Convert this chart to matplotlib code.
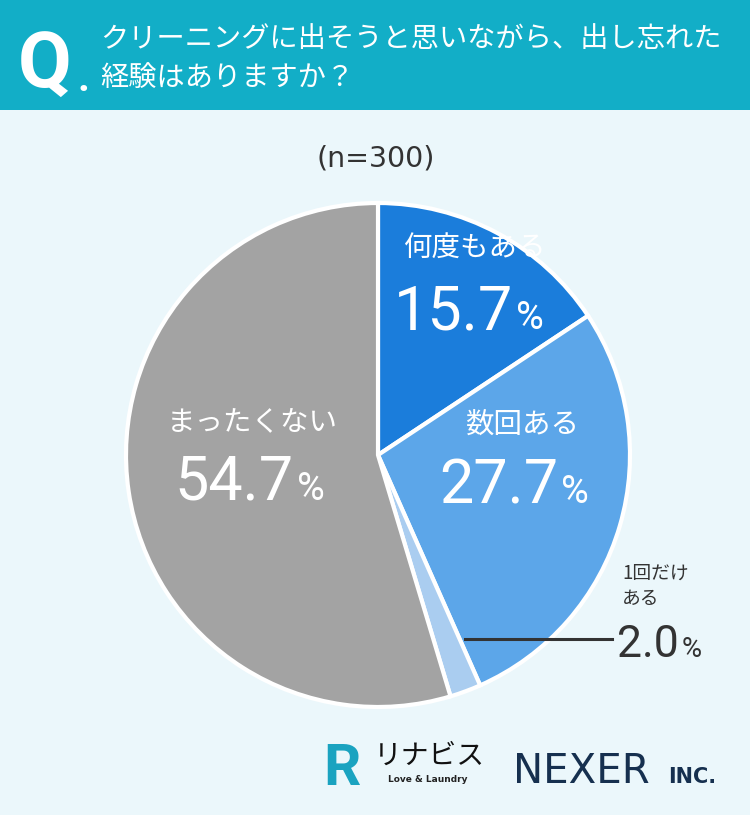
import matplotlib.pyplot as plt
from matplotlib.patches import Rectangle

plt.rcParams['font.family'] = ['Noto Sans CJK JP', 'DejaVu Sans']

# データ
labels = ['何度もある', '数回ある', '1回だけ\nある', 'まったくない']
values = [15.7, 27.7, 2.0, 54.7]
colors = ['#1b7ddb', '#5ca6e9', '#aacdf0', '#a3a3a3']
title_lines = ['クリーニングに出そうと思いながら、出し忘れた', '経験はありますか？']
n_text = '(n=300)'

NUM_FONT = ['Roboto', 'DejaVu Sans']

W, H = 750, 815
fig = plt.figure(figsize=(W / 100, H / 100), dpi=100)
fig.patch.set_facecolor('#ebf7fb')


def px(x, y):
    return x / W, 1 - y / H


# ヘッダー
fig.patches.append(Rectangle((0, 1 - 110 / H), 1, 110 / H, transform=fig.transFigure,
                             facecolor='#12aec7', edgecolor='none', zorder=0))
fig.text(*px(18, 88), 'Q', color='white', fontsize=56, fontweight='bold',
         family=NUM_FONT, va='baseline', ha='left')
fig.text(*px(77, 91), '.', color='white', fontsize=30, fontweight='bold',
         family=NUM_FONT, va='baseline', ha='left')
fig.text(*px(100, 39), title_lines[0], color='white', fontsize=20.3, va='center', ha='left')
fig.text(*px(100, 78), title_lines[1], color='white', fontsize=20.3, va='center', ha='left')

fig.text(*px(376, 159), n_text, color='#333333', fontsize=20.5, va='center', ha='center',
         family=['DejaVu Sans'])

# 円グラフ
cx, cy, r = 378, 455, 252
ax = fig.add_axes([(cx - r) / W, (H - cy - r) / H, 2 * r / W, 2 * r / H])
ax.pie(values, colors=colors, startangle=90, counterclock=False,
       wedgeprops=dict(edgecolor='white', linewidth=3))
ax.set_xlim(-1.0, 1.0)
ax.set_ylim(-1.0, 1.0)
ax.set_aspect('equal')
ax.axis('off')

# ラベル (ラベル位置, 数値の右端x, ベースラインy, 色)
spots = [
    ((475, 249), 513, 329, 'white'),
    ((522, 425), 558, 503, 'white'),
    ((622, 586), 679, 657, '#333333'),
    ((252, 422), 294, 500, 'white'),
]
for lab, val, (lpos, nx, ny, c) in zip(labels, values, spots):
    big = 44 if c == 'white' else 32
    if c == 'white':
        fig.text(*px(*lpos), lab, color=c, fontsize=20.5, ha='center', va='center')
    else:
        fig.text(*px(*lpos), lab, color=c, fontsize=13.5, ha='left', va='center',
                 linespacing=1.25)
    fig.text(*px(nx, ny), f'{val:.1f}', color=c, fontsize=big, ha='right', va='baseline',
             family=NUM_FONT)
    fig.text(*px(nx + 3, ny), '%', color=c, fontsize=big * 0.62, ha='left', va='baseline',
             family=NUM_FONT)

# 引き出し線
fig.add_artist(plt.Line2D([465 / W, 612 / W], [1 - 639 / H] * 2, color='#333333',
                          linewidth=2.2, transform=fig.transFigure))

# ロゴ
fig.text(*px(323, 785), 'R', color='#1aa3c0', fontsize=42, fontweight='bold',
         family=NUM_FONT, ha='left', va='baseline')
fig.text(*px(374, 756), 'リナビス', color='#111111', fontsize=20, ha='left', va='center')
fig.text(*px(428, 780), 'Love & Laundry', color='#222222', fontsize=6.5, ha='center',
         va='center', fontweight='bold', family=['DejaVu Sans'])
fig.text(*px(513, 783), 'NEXER', color='#16304f', fontsize=29, ha='left', va='baseline',
         family=['DejaVu Sans'])
fig.text(*px(668, 783), 'INC.', color='#16304f', fontsize=15, ha='left', va='baseline',
         fontweight='bold', family=['DejaVu Sans'])

fig.savefig('out.png', dpi=100, facecolor=fig.get_facecolor())
